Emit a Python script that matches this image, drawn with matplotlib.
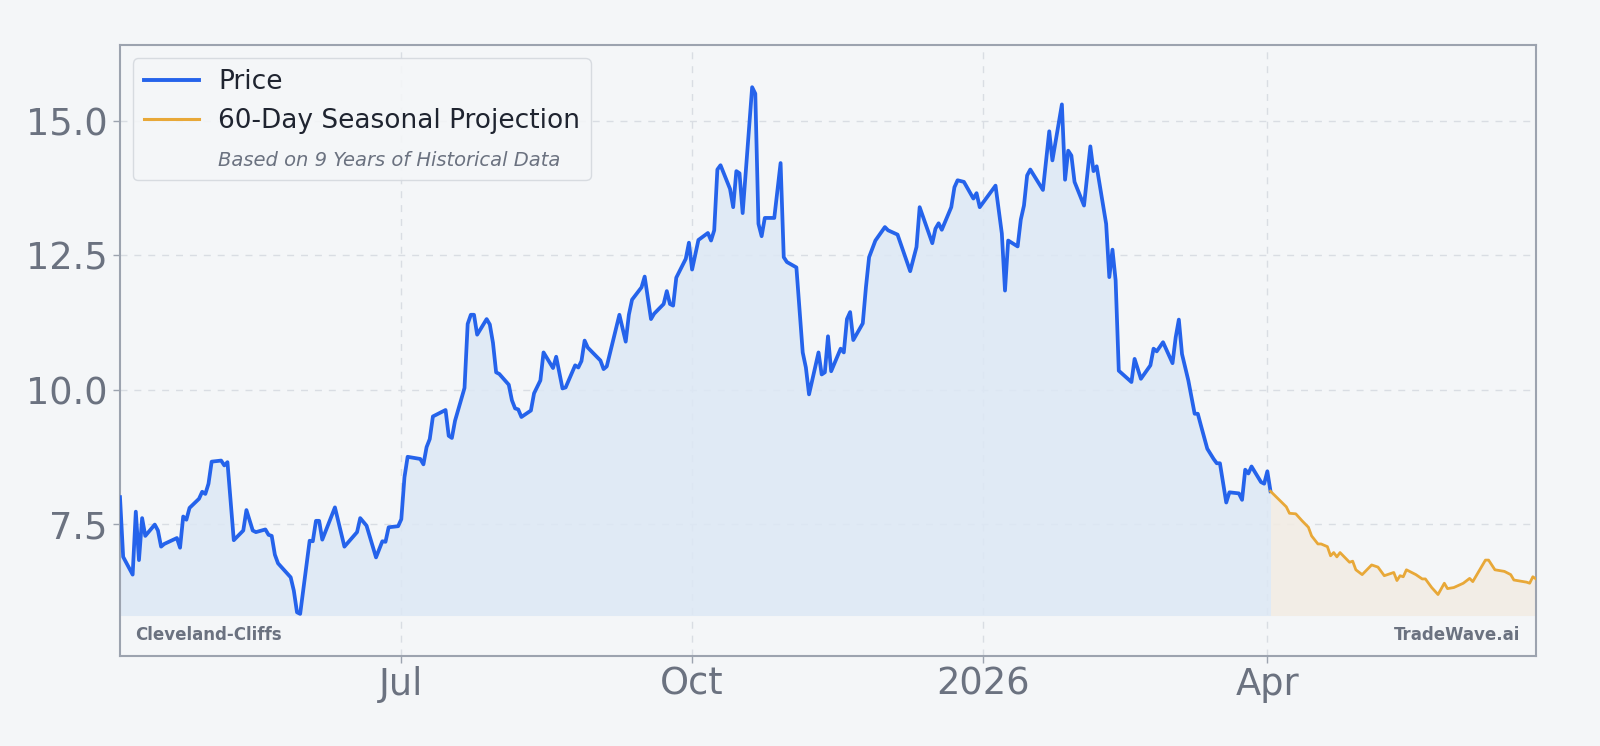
import matplotlib
matplotlib.use('Agg')
import matplotlib.pyplot as plt
import matplotlib.dates as mdates
from matplotlib.lines import Line2D
from matplotlib.ticker import FuncFormatter
import pandas as pd

# ---------------- data ----------------
price_dates = [
    "2025-04-03", "2025-04-04", "2025-04-07", "2025-04-08", "2025-04-09", "2025-04-10", "2025-04-11",
    "2025-04-14", "2025-04-15", "2025-04-16", "2025-04-17", "2025-04-21", "2025-04-22", "2025-04-23",
    "2025-04-24", "2025-04-25", "2025-04-28", "2025-04-29", "2025-04-30", "2025-05-01", "2025-05-02",
    "2025-05-05", "2025-05-06", "2025-05-07", "2025-05-09", "2025-05-12", "2025-05-13", "2025-05-15",
    "2025-05-16", "2025-05-19", "2025-05-20", "2025-05-21", "2025-05-22", "2025-05-23", "2025-05-27",
    "2025-05-28", "2025-05-29", "2025-05-30", "2025-06-02", "2025-06-03", "2025-06-04", "2025-06-05",
    "2025-06-06", "2025-06-10", "2025-06-13", "2025-06-17", "2025-06-18", "2025-06-20", "2025-06-23",
    "2025-06-25", "2025-06-26", "2025-06-27", "2025-06-30", "2025-07-01", "2025-07-02", "2025-07-03",
    "2025-07-07", "2025-07-08", "2025-07-09", "2025-07-10", "2025-07-11", "2025-07-15", "2025-07-16",
    "2025-07-17", "2025-07-18", "2025-07-21", "2025-07-22", "2025-07-23", "2025-07-24", "2025-07-25",
    "2025-07-28", "2025-07-29", "2025-07-30", "2025-07-31", "2025-08-01", "2025-08-04", "2025-08-05",
    "2025-08-06", "2025-08-07", "2025-08-08", "2025-08-11", "2025-08-12", "2025-08-14", "2025-08-15",
    "2025-08-18", "2025-08-19", "2025-08-21", "2025-08-22", "2025-08-25", "2025-08-26", "2025-08-27",
    "2025-08-28", "2025-08-29", "2025-09-02", "2025-09-03", "2025-09-04", "2025-09-08", "2025-09-10",
    "2025-09-11", "2025-09-12", "2025-09-15", "2025-09-16", "2025-09-18", "2025-09-19", "2025-09-22",
    "2025-09-23", "2025-09-24", "2025-09-25", "2025-09-26", "2025-09-29", "2025-09-30", "2025-10-01",
    "2025-10-03", "2025-10-06", "2025-10-07", "2025-10-08", "2025-10-09", "2025-10-10", "2025-10-13",
    "2025-10-14", "2025-10-15", "2025-10-16", "2025-10-17", "2025-10-20", "2025-10-21", "2025-10-22",
    "2025-10-23", "2025-10-24", "2025-10-27", "2025-10-29", "2025-10-30", "2025-10-31", "2025-11-03",
    "2025-11-04", "2025-11-05", "2025-11-06", "2025-11-07", "2025-11-10", "2025-11-11", "2025-11-12",
    "2025-11-13", "2025-11-14", "2025-11-17", "2025-11-18", "2025-11-19", "2025-11-20", "2025-11-21",
    "2025-11-24", "2025-11-25", "2025-11-26", "2025-11-28", "2025-12-01", "2025-12-02", "2025-12-05",
    "2025-12-09", "2025-12-11", "2025-12-12", "2025-12-16", "2025-12-17", "2025-12-18", "2025-12-19",
    "2025-12-22", "2025-12-23", "2025-12-24", "2025-12-26", "2025-12-29", "2025-12-30", "2025-12-31",
    "2026-01-05", "2026-01-07", "2026-01-08", "2026-01-09", "2026-01-12", "2026-01-13", "2026-01-14",
    "2026-01-15", "2026-01-16", "2026-01-20", "2026-01-22", "2026-01-23", "2026-01-26", "2026-01-27",
    "2026-01-28", "2026-01-29", "2026-01-30", "2026-02-02", "2026-02-04", "2026-02-05", "2026-02-06",
    "2026-02-09", "2026-02-10", "2026-02-11", "2026-02-12", "2026-02-13", "2026-02-17", "2026-02-18",
    "2026-02-20", "2026-02-23", "2026-02-24", "2026-02-25", "2026-02-27", "2026-03-02", "2026-03-03",
    "2026-03-04", "2026-03-05", "2026-03-07", "2026-03-09", "2026-03-10", "2026-03-11", "2026-03-13",
    "2026-03-15", "2026-03-16", "2026-03-17", "2026-03-19", "2026-03-20", "2026-03-23", "2026-03-24",
    "2026-03-25", "2026-03-26", "2026-03-27", "2026-03-30", "2026-03-31", "2026-04-01", "2026-04-02",
]
price_values = [
    8.00, 6.89, 6.56, 7.73, 6.83, 7.61, 7.28,
    7.49, 7.38, 7.08, 7.13, 7.24, 7.06, 7.64,
    7.58, 7.80, 7.97, 8.10, 8.06, 8.25, 8.66,
    8.68, 8.59, 8.65, 7.20, 7.38, 7.76, 7.38,
    7.35, 7.40, 7.30, 7.28, 6.93, 6.77, 6.51,
    6.26, 5.86, 5.83, 7.19, 7.18, 7.56, 7.56,
    7.21, 7.81, 7.08, 7.35, 7.61, 7.47, 6.88,
    7.18, 7.17, 7.44, 7.46, 7.59, 8.37, 8.75,
    8.71, 8.61, 8.93, 9.08, 9.50, 9.62, 9.14,
    9.10, 9.42, 10.03, 11.22, 11.39, 11.39, 11.02,
    11.31, 11.21, 10.87, 10.32, 10.29, 10.09, 9.80,
    9.65, 9.63, 9.49, 9.61, 9.93, 10.17, 10.69,
    10.40, 10.61, 10.02, 10.04, 10.45, 10.41, 10.53,
    10.91, 10.78, 10.54, 10.38, 10.43, 11.39, 10.89,
    11.39, 11.67, 11.90, 12.10, 11.31, 11.41, 11.59,
    11.83, 11.59, 11.56, 12.08, 12.43, 12.73, 12.23,
    12.78, 12.91, 12.77, 12.96, 14.09, 14.17, 13.73,
    13.39, 14.06, 14.02, 13.28, 15.62, 15.50, 13.08,
    12.85, 13.19, 13.19, 14.21, 12.46, 12.37, 12.27,
    11.47, 10.69, 10.41, 9.91, 10.69, 10.28, 10.32,
    10.99, 10.34, 10.76, 10.69, 11.31, 11.44, 10.92,
    11.23, 11.90, 12.46, 12.77, 13.02, 12.96, 12.88,
    12.20, 12.65, 13.39, 12.72, 12.99, 13.09, 12.97,
    13.39, 13.76, 13.89, 13.86, 13.55, 13.65, 13.39,
    13.79, 12.90, 11.84, 12.77, 12.66, 13.16, 13.42,
    13.98, 14.09, 13.71, 14.80, 14.26, 15.30, 13.90,
    14.44, 14.35, 13.86, 13.42, 14.52, 14.06, 14.15,
    13.08, 12.09, 12.60, 12.03, 10.35, 10.14, 10.57,
    10.20, 10.45, 10.76, 10.71, 10.88, 10.49, 10.97,
    11.30, 10.66, 10.17, 9.55, 9.55, 9.33, 8.90,
    8.71, 8.63, 8.63, 7.90, 8.09, 8.07, 7.95,
    8.51, 8.44, 8.57, 8.28, 8.25, 8.48, 8.11,
]

proj_dates = [
    "2026-04-02", "2026-04-07", "2026-04-08", "2026-04-10", "2026-04-12", "2026-04-14", "2026-04-15",
    "2026-04-17", "2026-04-18", "2026-04-20", "2026-04-21", "2026-04-22", "2026-04-23", "2026-04-24",
    "2026-04-27", "2026-04-28", "2026-04-29", "2026-05-01", "2026-05-04", "2026-05-06", "2026-05-08",
    "2026-05-11", "2026-05-12", "2026-05-13", "2026-05-14", "2026-05-15", "2026-05-18", "2026-05-20",
    "2026-05-21", "2026-05-23", "2026-05-25", "2026-05-27", "2026-05-28", "2026-05-30", "2026-06-02",
    "2026-06-04", "2026-06-05", "2026-06-09", "2026-06-10", "2026-06-12", "2026-06-15", "2026-06-17",
    "2026-06-18", "2026-06-22", "2026-06-23", "2026-06-24", "2026-06-25",
]
proj_values = [
    8.11, 7.82, 7.70, 7.69, 7.56, 7.44, 7.28,
    7.13, 7.13, 7.08, 6.91, 6.97, 6.89, 6.97,
    6.79, 6.81, 6.65, 6.56, 6.74, 6.70, 6.54,
    6.60, 6.45, 6.54, 6.52, 6.65, 6.56, 6.48,
    6.48, 6.32, 6.19, 6.40, 6.30, 6.32, 6.40,
    6.49, 6.43, 6.83, 6.83, 6.65, 6.62, 6.56,
    6.46, 6.42, 6.40, 6.52, 6.48,
]

y_ticks = [7.5, 10.0, 12.5, 15.0]
legend_labels = ["Price", "60-Day Seasonal Projection", "Based on 9 Years of Historical Data"]
company_name = "Cleveland-Cliffs"
brand_name = "TradeWave.ai"

# ---------------- style ----------------
BG = '#f4f6f8'
BLUE = '#2563eb'
ORANGE = '#e8a838'
GRAY_TEXT = '#6b7280'
SPINE = '#9ca3af'
GRID = '#d9dde3'

fig = plt.figure(figsize=(16, 7.46), dpi=100, facecolor=BG)
ax = fig.add_axes([0.075, 0.1206, 0.885, 0.819])
ax.set_facecolor(BG)

px = pd.to_datetime(price_dates)
pj = pd.to_datetime(proj_dates)

all_vals = price_values + proj_values
vmin, vmax = min(all_vals), max(all_vals)
rng = vmax - vmin
base = vmin - 0.03

ax.fill_between(px, price_values, base, color='#dde8f5', alpha=0.85, linewidth=0, zorder=1)
ax.fill_between(pj, proj_values, base, color='#f2ece4', alpha=0.9, linewidth=0, zorder=1)
ax.plot(px, price_values, color=BLUE, linewidth=2.7, zorder=3)
ax.plot(pj, proj_values, color=ORANGE, linewidth=2.0, zorder=3)

ax.set_xlim(px[0], pj[-1])
ax.set_ylim(vmin - 0.08 * rng, vmax + 0.08 * rng)

ax.set_yticks(y_ticks)
ax.yaxis.set_major_formatter(FuncFormatter(lambda v, p: f"{v:.1f}"))
ax.xaxis.set_major_locator(mdates.MonthLocator(bymonth=[1, 4, 7, 10]))


def fmt_date(x, pos=None):
    d = mdates.num2date(x)
    return str(d.year) if d.month == 1 else d.strftime('%b')


ax.xaxis.set_major_formatter(FuncFormatter(fmt_date))

ax.grid(True, linestyle=(0, (5, 5)), color=GRID, linewidth=1.0)
ax.set_axisbelow(True)

for s in ax.spines.values():
    s.set_color(SPINE)
    s.set_linewidth(1.5)

ax.tick_params(axis='both', labelsize=26.5, labelcolor=GRAY_TEXT, color=SPINE,
               length=5, width=1)
ax.tick_params(axis='y', pad=4)
ax.tick_params(axis='x', pad=2)

handles = [
    Line2D([], [], color=BLUE, linewidth=2.8),
    Line2D([], [], color=ORANGE, linewidth=2.2),
    Line2D([], [], color='none'),
]
leg = ax.legend(handles, legend_labels, loc='upper left', fontsize=19,
                handlelength=2.1, handletextpad=0.72, labelspacing=0.5,
                borderpad=0.4, frameon=True, fancybox=True,
                facecolor=BG, edgecolor='#d4d8de', framealpha=0.9)
for t in leg.get_texts():
    t.set_color('#1f2430')
sub = leg.get_texts()[2]
sub.set_fontsize(14)
sub.set_style('italic')
sub.set_color(GRAY_TEXT)
leg.get_frame().set_linewidth(1.0)

ax.text(0.011, 0.034, company_name, transform=ax.transAxes, fontsize=12,
        fontweight='bold', color=GRAY_TEXT, ha='left', va='center', zorder=5)
ax.text(0.989, 0.034, brand_name, transform=ax.transAxes, fontsize=12,
        fontweight='bold', color=GRAY_TEXT, ha='right', va='center', zorder=5)

fig.savefig('out.png', dpi=100, facecolor=BG)
